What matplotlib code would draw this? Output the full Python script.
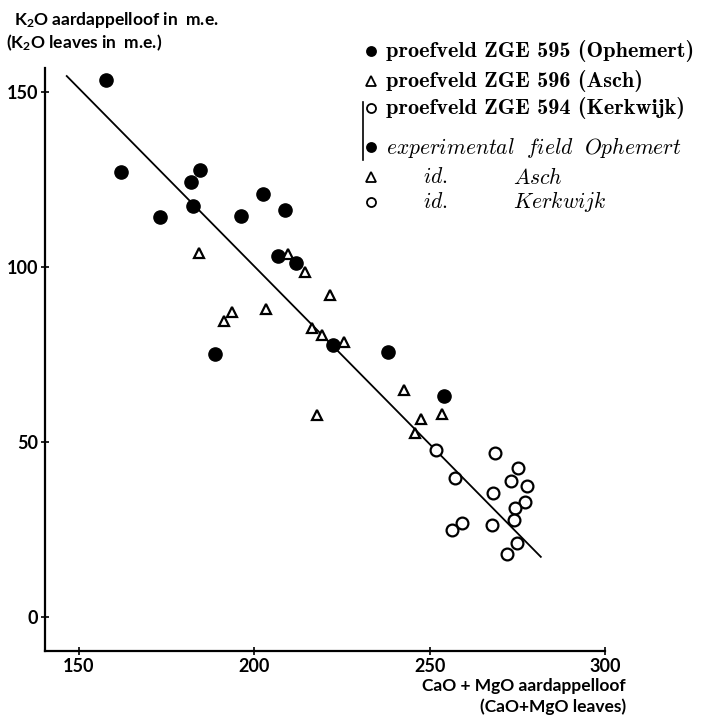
import matplotlib
matplotlib.use("Agg")
import matplotlib.pyplot as plt
from matplotlib.lines import Line2D

plt.rcParams['mathtext.fontset'] = 'cm'
plt.rcParams['mathtext.default'] = 'regular'

# CaO+MgO (x) against K2O (y) in the leaves, m.e.
ophemert_x = [157.6, 162.1, 173.2, 182.0, 184.5, 182.5, 196.3, 202.6, 208.8, 206.7, 212.0, 188.9, 222.5, 238.2, 254.2]
ophemert_y = [153.6, 127.2, 114.4, 124.3, 127.7, 117.5, 114.5, 120.9, 116.2, 103.3, 101.3, 75.1, 77.7, 75.7, 63.2]

asch_x = [184.2, 209.6, 214.4, 221.5, 203.3, 191.3, 193.7, 216.4, 219.4, 225.6, 217.8, 242.6, 247.4, 253.6, 245.7]
asch_y = [103.9, 103.7, 98.6, 92.0, 88.0, 84.7, 87.1, 82.6, 80.5, 78.6, 57.7, 64.9, 56.6, 57.9, 52.7]

kerkwijk_x = [251.8, 257.3, 268.7, 275.3, 273.2, 277.7, 268.2, 277.2, 274.3, 274.0, 259.2, 256.3, 267.7, 274.8, 272.0]
kerkwijk_y = [47.7, 39.6, 46.8, 42.7, 39.0, 37.5, 35.4, 32.9, 31.2, 27.7, 26.8, 24.9, 26.3, 21.1, 18.0]

# regression line end points
fit_x = [146.5, 281.7]
fit_y = [154.6, 17.2]

xticks = [150, 200, 250, 300]
yticks = [0, 50, 100, 150]

W, H = 705, 724
SANS = 'Lato'


def fx(px):
    return px / W


def fy(py):
    return 1 - py / H


fig = plt.figure(figsize=(W / 100, H / 100), dpi=100)
ax = fig.add_axes([fx(45), fy(651), fx(605) - fx(45), fy(68) - fy(651)])

ax.plot(fit_x, fit_y, color='black', lw=1.3, zorder=1)
ax.plot(ophemert_x, ophemert_y, 'o', ms=9.5, color='black', zorder=3)
ax.plot(asch_x, asch_y, '^', ms=7.5, mfc='white', mec='black', mew=1.6, zorder=3)
ax.plot(kerkwijk_x, kerkwijk_y, 'o', ms=8.5, mfc='white', mec='black', mew=1.6, zorder=3)

ax.set_xlim(140.3, 300)
ax.set_ylim(-9.7, 156.9)
ax.set_xticks(xticks)
ax.set_yticks(yticks)
ax.set_xticklabels([str(t) for t in xticks], fontfamily=SANS, fontweight='bold', fontsize=13)
ax.set_yticklabels([str(t) for t in yticks], fontfamily=SANS, fontweight='bold', fontsize=13)
ax.tick_params(direction='inout', length=6, width=1.2, pad=2)
for s in ['top', 'right']:
    ax.spines[s].set_visible(False)
for s in ['left', 'bottom']:
    ax.spines[s].set_linewidth(1.6)

# axis titles
label_kw = dict(fontfamily=SANS, fontweight='bold', fontsize=12.5, va='center')
fig.text(fx(14), fy(20), 'K$_2$O aardappelloof in  m.e.', ha='left', **label_kw)
fig.text(fx(6), fy(43), '(K$_2$O leaves in  m.e.)', ha='left', **label_kw)
fig.text(fx(626), fy(686), 'CaO + MgO aardappelloof', ha='right', **label_kw)
fig.text(fx(626), fy(707), '(CaO+MgO leaves)', ha='right', **label_kw)


def legend_marker(mk, fc, py):
    fig.add_artist(Line2D([fx(371)], [fy(py)], marker=mk, ms=6.5 if mk == 'o' else 7,
                          mfc=fc, mec='black', mew=1.3, transform=fig.transFigure))


# legend block, Dutch entries
rows = [
    ('o', 'black', 51, 'proefveld ZGE 595 (Ophemert)'),
    ('^', 'white', 81, 'proefveld ZGE 596 (Asch)'),
    ('o', 'white', 108, 'proefveld ZGE 594 (Kerkwijk)'),
]
for mk, fc, py, label in rows:
    legend_marker(mk, fc, py)
    fig.text(fx(386), fy(py), label, fontfamily='cmb10', fontsize=16, va='center', ha='left')

# English entries
en_rows = [
    ('o', 'black', 147, r'$\mathit{experimental\ \ field\ \ Ophemert}$', None),
    ('^', 'white', 177, r'$\mathit{id.}$', r'$\mathit{Asch}$'),
    ('o', 'white', 202, r'$\mathit{id.}$', r'$\mathit{Kerkwijk}$'),
]
for mk, fc, py, first, second in en_rows:
    legend_marker(mk, fc, py)
    if second is None:
        fig.text(fx(386), fy(py), first, fontsize=15.5, va='center', ha='left')
    else:
        fig.text(fx(423), fy(py), first, fontsize=15.5, va='center', ha='left')
        fig.text(fx(513), fy(py), second, fontsize=15.5, va='center', ha='left')

# margin bar beside the English entries
fig.add_artist(Line2D([fx(363), fx(363)], [fy(102), fy(160)], color='black', lw=1.2,
                      transform=fig.transFigure))

fig.savefig('out.png', dpi=100)
